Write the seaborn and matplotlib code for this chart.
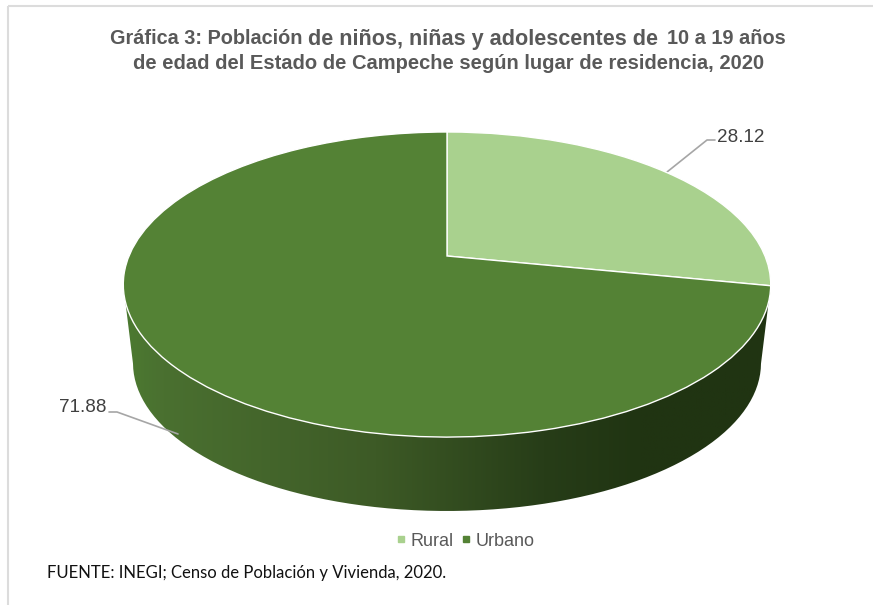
import numpy as np
import seaborn as sns
import matplotlib.pyplot as plt
from matplotlib.colors import LinearSegmentedColormap
from matplotlib.lines import Line2D
from matplotlib.patches import PathPatch, Rectangle
from matplotlib.path import Path
from matplotlib.transforms import Transform

categories = ["Rural", "Urbano"]
values = [28.12, 71.88]
value_labels = ["28.12", "71.88"]
title_line1 = [("Gráfica 3: Población", 110, 14.3), ("de niños, niñas y adolescentes de", 308, 15.6), ("10 a 19 años", 667, 14.4)]
title_line2 = "de edad del Estado de Campeche según lugar de residencia, 2020"
source = "FUENTE: INEGI; Censo de Población y Vivienda, 2020."

sns.set_theme(style="white")
plt.rcParams['font.family'] = ['Liberation Sans', 'DejaVu Sans']
palette = sns.color_palette(["#A9D18E", "#548235"])


# tilted disc: unit pie -> pixel position, with the near side drawn larger
class Tilt(Transform):
    input_dims = 2
    output_dims = 2

    def __init__(self, scale=1.0, dy=0.0):
        super().__init__()
        self.scale = scale
        self.dy = dy

    def transform_non_affine(self, xy):
        xy = np.asarray(xy)
        w = 1 + 0.187 * xy[:, 1]
        px = 447 + self.scale * 318 * xy[:, 0] / w
        py = 284.5 + self.dy + self.scale * (256 - 284.5 - 147.2 * xy[:, 1] / w)
        return np.column_stack([px, py])


fig = plt.figure(figsize=(8.73, 6.05), dpi=100)
ax = fig.add_axes([0, 0, 1, 1])

wedges, _ = ax.pie(values, colors=palette, startangle=90, counterclock=False,
                   wedgeprops=dict(edgecolor="white", linewidth=1))
ax.set_aspect("auto")
top = Tilt()
for w in wedges:
    w.set_transform(top + ax.transData)
    w.set_zorder(3)
ax.axis("off")

# side wall, shaded from left to right and clipped to the outline
t = np.linspace(0, 2 * np.pi, 361)
circle = np.column_stack([np.cos(t), np.sin(t)])
upper = top.transform_non_affine(circle)
lower = Tilt(scale=0.97, dy=78.5).transform_non_affine(circle)
lower = lower[lower[:, 1] > 363]
wall = np.vstack([upper[np.argsort(upper[:, 0])][[0, -1]], lower[np.argsort(-lower[:, 0])]])
wall_cmap = LinearSegmentedColormap.from_list("wall", [(0, "#4C7A30"), (0.06, "#4A7030"), (0.39, "#3D5A26"), (0.65, "#273D18"), (0.8, "#203412"), (1, "#203412")])
grad = ax.imshow(np.linspace(0, 1, 256)[None, :], cmap=wall_cmap, extent=(124, 771, 511, 270), aspect="auto", zorder=1)
clip = PathPatch(Path(wall, closed=False), transform=ax.transData, facecolor="none", edgecolor="none")
ax.add_patch(clip)
grad.set_clip_path(clip)
ax.set_xlim(0, 873)
ax.set_ylim(605, 0)

# data labels with leader lines
ax.plot([667, 707, 715], [172, 140, 140], color="#A6A6A6", lw=1.2, zorder=2)
ax.plot([109, 117, 178], [412, 412, 434], color="#A6A6A6", lw=1.2, zorder=2)
ax.text(717, 137, value_labels[0], fontsize=13.6, color="#404040", va="center", ha="left")
ax.text(106, 407, value_labels[1], fontsize=13.6, color="#404040", va="center", ha="right")

# title, first line mixes sizes
for txt, x, size in title_line1:
    ax.text(x, 44.5, txt, fontsize=size, fontweight="bold", color="#595959", va="baseline", ha="left")
ax.text(448.5, 69, title_line2, fontsize=14.5, fontweight="bold", color="#595959", va="baseline", ha="center")

handles = [Line2D([], [], marker="s", ls="", ms=4.2, color=c, label=l) for c, l in zip(palette, categories)]
ax.legend(handles=handles, loc="center", bbox_to_anchor=(465 / 873, 1 - 541 / 605), ncol=2, frameon=False,
          fontsize=13, labelcolor="#595959", handletextpad=0.25, columnspacing=0.35, handlelength=0.6)

ax.text(47, 573, source, family="Lato", fontsize=12, color="#111111", va="center", ha="left")

# chart frame
ax.add_patch(Rectangle((8, 6), 900, 700, facecolor="none", edgecolor="#DCDCDC", lw=1.5, zorder=0))

fig.savefig("out.png", dpi=100)
